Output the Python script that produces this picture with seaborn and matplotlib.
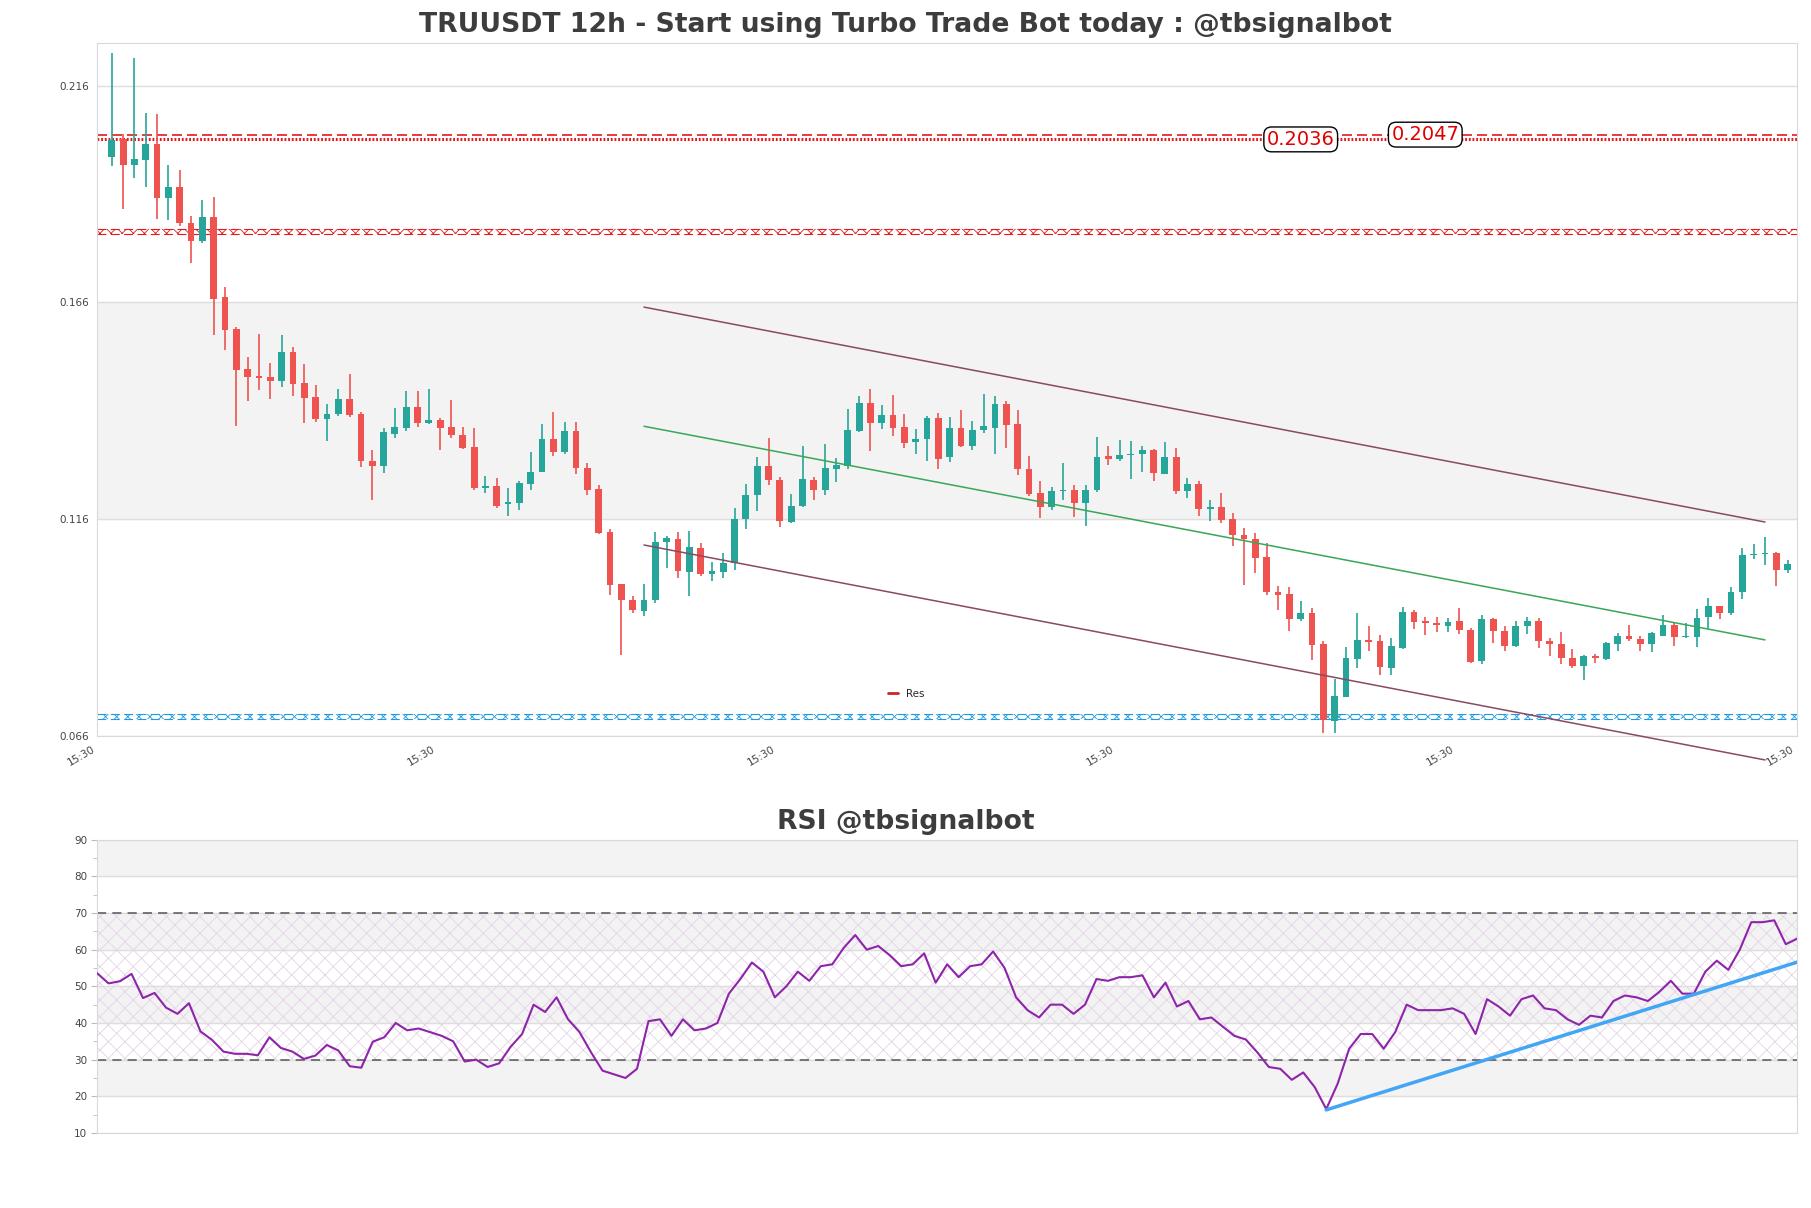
import matplotlib
matplotlib.use("Agg")
import matplotlib.pyplot as plt
import seaborn as sns
import numpy as np
import pandas as pd

# ------------------------------------------------------------------
# Data (12h candles, 149 bars)
# ------------------------------------------------------------------
opens = [
    0.1995, 0.2038, 0.1977, 0.1989, 0.2025, 0.1901, 0.1926, 0.1844, 0.1802, 0.1856,
    0.1672, 0.1598, 0.1506, 0.1490, 0.1487, 0.1479, 0.1545, 0.1473, 0.1441, 0.1391,
    0.1402, 0.1437, 0.1402, 0.1294, 0.1283, 0.1357, 0.1370, 0.1418, 0.1382, 0.1388,
    0.1373, 0.1355, 0.1327, 0.1231, 0.1237, 0.1194, 0.1196, 0.1240, 0.1269, 0.1345,
    0.1314, 0.1364, 0.1278, 0.1230, 0.1131, 0.1009, 0.0974, 0.0947, 0.0972, 0.1106,
    0.1114, 0.1038, 0.1094, 0.1033, 0.1038, 0.1059, 0.1160, 0.1215, 0.1282, 0.1251,
    0.1152, 0.1189, 0.1251, 0.1226, 0.1275, 0.1282, 0.1364, 0.1428, 0.1381, 0.1401,
    0.1373, 0.1337, 0.1344, 0.1394, 0.1302, 0.1370, 0.1328, 0.1365, 0.1371, 0.1426,
    0.1380, 0.1276, 0.1221, 0.1187, 0.1224, 0.1228, 0.1198, 0.1226, 0.1306, 0.1299,
    0.1307, 0.1309, 0.1320, 0.1265, 0.1304, 0.1224, 0.1241, 0.1182, 0.1188, 0.1159,
    0.1124, 0.1115, 0.1073, 0.0992, 0.0988, 0.0930, 0.0944, 0.0872, 0.0695, 0.0750,
    0.0838, 0.0880, 0.0878, 0.0817, 0.0863, 0.0946, 0.0924, 0.0921, 0.0912, 0.0924,
    0.0905, 0.0832, 0.0930, 0.0902, 0.0866, 0.0913, 0.0925, 0.0879, 0.0872, 0.0840,
    0.0820, 0.0843, 0.0836, 0.0872, 0.0889, 0.0884, 0.0872, 0.0891, 0.0916, 0.0887,
    0.0887, 0.0933, 0.0959, 0.0942, 0.0991, 0.1077, 0.1079, 0.1082, 0.1042,
]
highs = [
    0.2236, 0.2048, 0.2223, 0.2098, 0.2094, 0.1976, 0.1966, 0.1859, 0.1896, 0.1902,
    0.1696, 0.1604, 0.1533, 0.1587, 0.1521, 0.1584, 0.1558, 0.1517, 0.1470, 0.1425,
    0.1460, 0.1494, 0.1408, 0.1319, 0.1370, 0.1417, 0.1456, 0.1456, 0.1460, 0.1393,
    0.1435, 0.1372, 0.1370, 0.1259, 0.1255, 0.1232, 0.1248, 0.1315, 0.1380, 0.1407,
    0.1384, 0.1384, 0.1289, 0.1238, 0.1136, 0.1009, 0.0982, 0.1009, 0.1130, 0.1121,
    0.1129, 0.1132, 0.1105, 0.1061, 0.1082, 0.1186, 0.1241, 0.1302, 0.1347, 0.1256,
    0.1218, 0.1328, 0.1258, 0.1333, 0.1301, 0.1414, 0.1445, 0.1461, 0.1424, 0.1447,
    0.1403, 0.1368, 0.1398, 0.1405, 0.1396, 0.1412, 0.1386, 0.1449, 0.1445, 0.1432,
    0.1412, 0.1306, 0.1248, 0.1234, 0.1290, 0.1238, 0.1238, 0.1349, 0.1329, 0.1343,
    0.1340, 0.1328, 0.1322, 0.1338, 0.1325, 0.1255, 0.1248, 0.1205, 0.1221, 0.1175,
    0.1140, 0.1128, 0.1104, 0.1005, 0.1003, 0.0971, 0.0955, 0.0879, 0.0790, 0.0864,
    0.0944, 0.0914, 0.0893, 0.0886, 0.0956, 0.0950, 0.0934, 0.0934, 0.0932, 0.0955,
    0.0909, 0.0938, 0.0932, 0.0913, 0.0925, 0.0934, 0.0932, 0.0886, 0.0899, 0.0861,
    0.0846, 0.0849, 0.0876, 0.0896, 0.0916, 0.0890, 0.0899, 0.0939, 0.0923, 0.0920,
    0.0952, 0.0978, 0.0959, 0.1003, 0.1094, 0.1103, 0.1119, 0.1084, 0.1065,
]
lows = [
    0.1975, 0.1876, 0.1947, 0.1926, 0.1853, 0.1850, 0.1836, 0.1751, 0.1796, 0.1585,
    0.1550, 0.1375, 0.1433, 0.1458, 0.1438, 0.1464, 0.1444, 0.1382, 0.1384, 0.1340,
    0.1398, 0.1396, 0.1281, 0.1204, 0.1267, 0.1347, 0.1362, 0.1373, 0.1379, 0.1320,
    0.1348, 0.1321, 0.1228, 0.1219, 0.1185, 0.1168, 0.1180, 0.1226, 0.1268, 0.1305,
    0.1310, 0.1263, 0.1215, 0.1125, 0.0984, 0.0847, 0.0942, 0.0936, 0.0966, 0.1047,
    0.1025, 0.0982, 0.1028, 0.1017, 0.1024, 0.1042, 0.1138, 0.1178, 0.1238, 0.1142,
    0.1150, 0.1188, 0.1203, 0.1215, 0.1245, 0.1276, 0.1361, 0.1318, 0.1367, 0.1351,
    0.1325, 0.1311, 0.1295, 0.1275, 0.1292, 0.1326, 0.1319, 0.1359, 0.1309, 0.1325,
    0.1261, 0.1213, 0.1163, 0.1181, 0.1205, 0.1164, 0.1144, 0.1222, 0.1284, 0.1295,
    0.1253, 0.1268, 0.1247, 0.1264, 0.1217, 0.1208, 0.1166, 0.1155, 0.1150, 0.1097,
    0.1007, 0.1036, 0.0984, 0.0949, 0.0901, 0.0924, 0.0834, 0.0667, 0.0666, 0.0749,
    0.0817, 0.0855, 0.0799, 0.0801, 0.0859, 0.0907, 0.0892, 0.0899, 0.0899, 0.0894,
    0.0827, 0.0826, 0.0873, 0.0855, 0.0865, 0.0894, 0.0863, 0.0844, 0.0825, 0.0816,
    0.0788, 0.0828, 0.0834, 0.0855, 0.0879, 0.0855, 0.0852, 0.0889, 0.0866, 0.0886,
    0.0864, 0.0907, 0.0929, 0.0939, 0.0976, 0.1067, 0.1053, 0.1005, 0.1035,
]
closes = [
    0.2035, 0.1977, 0.1990, 0.2025, 0.1901, 0.1926, 0.1843, 0.1802, 0.1856, 0.1668,
    0.1596, 0.1504, 0.1488, 0.1486, 0.1479, 0.1545, 0.1472, 0.1440, 0.1391, 0.1402,
    0.1437, 0.1400, 0.1293, 0.1283, 0.1360, 0.1372, 0.1418, 0.1382, 0.1388, 0.1370,
    0.1353, 0.1325, 0.1232, 0.1237, 0.1191, 0.1200, 0.1242, 0.1269, 0.1345, 0.1314,
    0.1364, 0.1277, 0.1228, 0.1128, 0.1007, 0.0972, 0.0949, 0.0974, 0.1107, 0.1116,
    0.1039, 0.1096, 0.1032, 0.1039, 0.1059, 0.1160, 0.1215, 0.1282, 0.1250, 0.1155,
    0.1191, 0.1253, 0.1226, 0.1278, 0.1285, 0.1366, 0.1428, 0.1381, 0.1401, 0.1371,
    0.1335, 0.1345, 0.1394, 0.1299, 0.1370, 0.1328, 0.1366, 0.1374, 0.1425, 0.1378,
    0.1275, 0.1218, 0.1187, 0.1225, 0.1227, 0.1198, 0.1228, 0.1304, 0.1298, 0.1308,
    0.1311, 0.1320, 0.1266, 0.1304, 0.1224, 0.1241, 0.1182, 0.1188, 0.1158, 0.1122,
    0.1114, 0.1069, 0.0992, 0.0984, 0.0930, 0.0942, 0.0869, 0.0696, 0.0751, 0.0840,
    0.0880, 0.0876, 0.0819, 0.0866, 0.0946, 0.0922, 0.0919, 0.0915, 0.0923, 0.0903,
    0.0829, 0.0930, 0.0901, 0.0866, 0.0914, 0.0925, 0.0878, 0.0871, 0.0839, 0.0820,
    0.0843, 0.0839, 0.0875, 0.0889, 0.0882, 0.0871, 0.0896, 0.0916, 0.0887, 0.0889,
    0.0932, 0.0959, 0.0942, 0.0992, 0.1078, 0.1080, 0.1082, 0.1042, 0.1057,
]
rsi = [
    53.6, 50.8, 51.4, 53.4, 46.8, 48.2, 44.2, 42.5, 45.4, 37.7,
    35.4, 32.2, 31.6, 31.6, 31.2, 36.1, 33.2, 32.2, 30.2, 31.1,
    34.0, 32.5, 28.2, 27.8, 34.9, 36.1, 40.0, 38.0, 38.5, 37.5,
    36.5, 35.0, 29.5, 30.0, 28.0, 29.0, 33.5, 37.0, 45.0, 43.0,
    47.0, 41.0, 37.5, 32.0, 27.0, 26.0, 25.0, 27.5, 40.5, 41.0,
    36.5, 41.0, 38.0, 38.5, 40.0, 48.0, 52.0, 56.5, 54.0, 47.0,
    50.0, 54.0, 51.5, 55.5, 56.0, 60.5, 64.0, 60.0, 61.0, 58.5,
    55.5, 56.0, 59.0, 51.0, 56.0, 52.5, 55.5, 56.0, 59.5, 55.0,
    47.0, 43.5, 41.5, 45.0, 45.0, 42.5, 45.0, 52.0, 51.5, 52.5,
    52.5, 53.0, 47.0, 51.0, 44.5, 46.0, 41.0, 41.5, 39.0, 36.5,
    35.5, 32.0, 28.0, 27.5, 24.5, 26.5, 22.5, 16.5, 23.5, 33.0,
    37.0, 37.0, 33.0, 37.5, 45.0, 43.5, 43.5, 43.5, 44.0, 42.5,
    37.0, 46.5, 44.5, 42.0, 46.5, 47.5, 44.0, 43.5, 41.0, 39.5,
    42.0, 41.5, 46.0, 47.5, 47.0, 46.0, 48.5, 51.5, 48.0, 48.0,
    54.0, 57.0, 54.5, 60.0, 67.5, 67.5, 68.0, 61.5, 63.0,
]

# support / resistance levels
res_dashed = 0.2047
res_dotted = 0.2036
res_band = 0.1824
sup_band = 0.0705

# channel lines: (start bar, end bar, start price, end price)
channel_upper = (47, 146, 0.1649, 0.1153)
channel_lower = (47, 146, 0.1100, 0.0604)
channel_mid = (47, 146, 0.1374, 0.0881)

# RSI trend line
rsi_trend = (107, 148, 16.3, 56.6)

price_ticks = [0.066, 0.116, 0.166, 0.216]
date_ticks = [0, 30, 60, 90, 120, 150]
date_labels = ["15:30"] * 6

UP = "#26a69a"
DOWN = "#ef5350"
TEXT = "#444444"
TITLE = "#3d3d3d"

sns.set_style("white")
plt.rcParams["font.family"] = ["DejaVu Sans"]
plt.rcParams["hatch.linewidth"] = 0.6

df = pd.DataFrame({"open": opens, "high": highs, "low": lows, "close": closes})
df["x"] = np.arange(len(df))
df["color"] = np.where(df["close"] >= df["open"], UP, DOWN)

fig = plt.figure(figsize=(18.11, 12.08), dpi=100)
ax = fig.add_axes([0.0536, 0.391, 0.9388, 0.5736])
ax_rsi = fig.add_axes([0.0536, 0.0621, 0.9388, 0.2428])

# ------------------------------------------------------------------
# Price panel
# ------------------------------------------------------------------
ax.axhspan(price_ticks[1], price_ticks[2], color="#f3f3f3", zorder=0)
for t in price_ticks:
    ax.axhline(t, color="#dedede", lw=1, zorder=0.5)

ax.vlines(df["x"], df["low"], df["high"], colors=df["color"], lw=1.2, zorder=2)
ax.bar(df["x"], df["close"] - df["open"], bottom=df["open"], width=0.6,
       color=df["color"], linewidth=0, zorder=3)

# resistance lines
ax.axhline(res_dashed, color="#e31a1c", lw=1.2, ls=(0, (6, 3)), zorder=1)
ax.axhline(res_dotted, color="#e31a1c", lw=2.2, ls=(0, (0.6, 0.6)), zorder=1)
for lvl, col in [(res_band, "#e31a1c"), (sup_band, "#1e9be0")]:
    ax.axhspan(lvl - 0.0006, lvl + 0.0006, facecolor="none", edgecolor=col,
               hatch="xxx", lw=0, zorder=1)
    ax.axhline(lvl + 0.0006, color=col, lw=0.8, ls=(0, (8, 4)), zorder=1)
    ax.axhline(lvl - 0.0006, color=col, lw=0.8, ls=(0, (8, 4)), zorder=1)

box = dict(boxstyle="round,pad=0.15,rounding_size=0.4", fc="white", ec="black", lw=1)
ax.text(105, res_dotted, f"{res_dotted:.4f}", color="#e00000", fontsize=14,
        ha="center", va="center", bbox=box, zorder=5)
ax.text(116, res_dashed, f"{res_dashed:.4f}", color="#e00000", fontsize=14,
        ha="center", va="center", bbox=box, zorder=5)

# channel
for (x0, x1, y0, y1), col in [(channel_upper, "#8a4a5f"), (channel_lower, "#8a4a5f"),
                              (channel_mid, "#3aa657")]:
    ax.plot([x0, x1], [y0, y1], color=col, lw=1.1, clip_on=False, zorder=4)

ax.plot([], [], color="#d0202a", lw=2, label="Res")
ax.legend(loc="center", bbox_to_anchor=(0.476, 0.06), frameon=False,
          fontsize=7.5, handlelength=1.0)

ax.set_xlim(-0.97, 148.85)
ax.set_ylim(0.066, 0.2259)
ax.set_yticks(price_ticks)
ax.set_yticklabels([f"{t:.3f}" for t in price_ticks])
ax.set_xticks([d - 1.3 for d in date_ticks])
ax.set_xticklabels(date_labels, rotation=30, ha="right")
ax.tick_params(axis="both", length=0, labelsize=7.5, labelcolor=TEXT, pad=6)
for s in ax.spines.values():
    s.set_color("#d9d9d9")

# ------------------------------------------------------------------
# RSI panel
# ------------------------------------------------------------------
for lo in range(20, 90, 20):
    ax_rsi.axhspan(lo, lo + 10, color="#f3f3f3", zorder=0)
ax_rsi.axhspan(30, 70, facecolor="none", edgecolor="#e4d3e8", hatch="xx",
               lw=0, zorder=0.5)
for t in range(10, 91, 10):
    ax_rsi.axhline(t, color="#dedede", lw=1, zorder=0.6)
ax_rsi.axhline(70, color="#555555", lw=1.1, ls=(0, (6, 4)), zorder=1)
ax_rsi.axhline(30, color="#555555", lw=1.1, ls=(0, (6, 4)), zorder=1)

rsi_df = pd.DataFrame({"x": np.arange(len(rsi)), "rsi": rsi})
sns.lineplot(data=rsi_df, x="x", y="rsi", ax=ax_rsi, color="#8e24aa", lw=1.5, zorder=3)
sns.lineplot(x=[rsi_trend[0], rsi_trend[1]], y=[rsi_trend[2], rsi_trend[3]],
             ax=ax_rsi, color="#42a5f5", lw=2.5, zorder=4)

ax_rsi.set_xlim(0, len(rsi) - 1)
ax_rsi.set_ylim(10, 90)
ax_rsi.set_yticks(range(10, 91, 10))
ax_rsi.set_yticks(range(15, 90, 10), minor=True)
ax_rsi.set_xticks([])
ax_rsi.set_xlabel("")
ax_rsi.set_ylabel("")
ax_rsi.tick_params(axis="y", which="major", length=4, color="#bbbbbb",
                   labelsize=7.5, labelcolor=TEXT, pad=3, left=True)
ax_rsi.tick_params(axis="y", which="minor", length=3, color="#bbbbbb", left=True)
for s in ax_rsi.spines.values():
    s.set_color("#d9d9d9")

# titles are centred on the figure, not on the axes
fig.text(0.5, 0.9790, "TRUUSDT 12h - Start using Turbo Trade Bot today : @tbsignalbot",
         fontsize=19.2, fontweight="bold", color=TITLE, ha="center", va="center")
fig.text(0.5, 0.3193, "RSI @tbsignalbot", fontsize=19.2, fontweight="bold",
         color=TITLE, ha="center", va="center")

fig.savefig("out.png", dpi=100)
